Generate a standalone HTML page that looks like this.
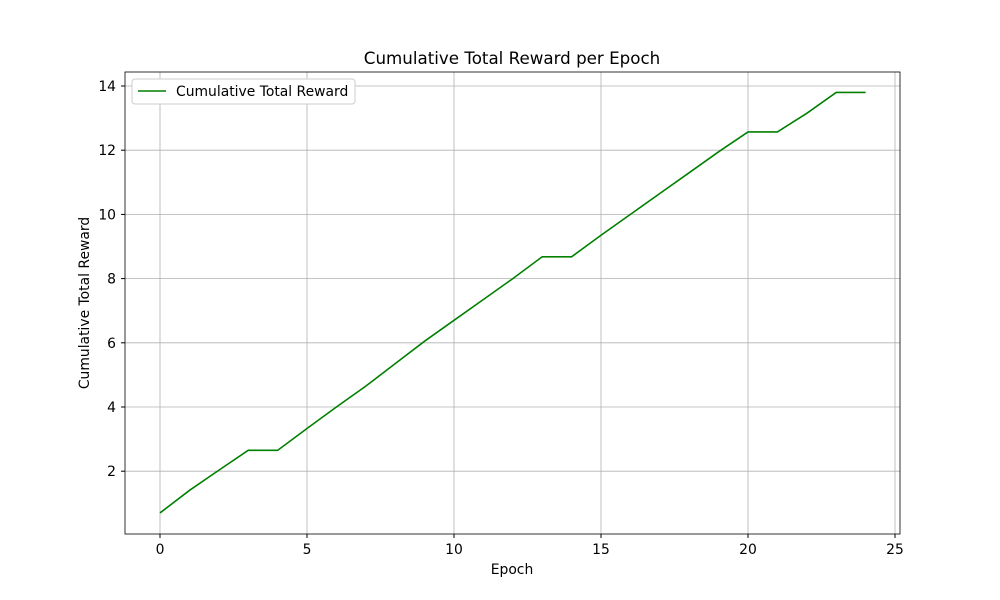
<!DOCTYPE html>
<html><head><meta charset="utf-8"><style>
body{margin:0;background:#fff;}
svg{display:block;font-family:"DejaVu Sans","Liberation Sans",sans-serif;}
</style></head><body>
<svg id="chart" width="1000" height="600">
<rect x="0" y="0" width="1000" height="600" fill="#fff"/>
<text x="512" y="64" text-anchor="middle" font-size="16.7">Cumulative Total Reward per Epoch</text>
<g id="grid"></g>
<g id="ticks"></g>
<rect x="125" y="72" width="775" height="462" fill="none" stroke="#000" stroke-width="0.8"/>
<path id="line" fill="none" stroke="#008000" stroke-width="1.6"/>
<text x="512" y="574" text-anchor="middle" font-size="13.9">Epoch</text>
<text transform="translate(89,303) rotate(-90)" text-anchor="middle" font-size="13.9">Cumulative Total Reward</text>
<g>
<rect x="132" y="79" width="223" height="25" rx="3" fill="#fff" stroke="#ccc"/>
<line x1="138" y1="91" x2="166" y2="91" stroke="#008000" stroke-width="1.6"/>
<text x="176" y="96" font-size="13.9">Cumulative Total Reward</text>
</g>
</svg>
<script>
const epochs = [0,1,2,3,4,5,6,7,8,9,10,11,12,13,14,15,16,17,18,19,20,21,22,23,24];
const rewards = [0.70,1.40,2.03,2.65,2.65,3.33,4.0,4.65,5.35,6.05,6.7,7.35,8.0,8.68,8.68,9.35,10.0,10.65,11.3,11.95,12.57,12.57,13.15,13.8,13.8];
const xTicks = [0,5,10,15,20,25];
const yTicks = [2,4,6,8,10,12,14];
const NS="http://www.w3.org/2000/svg";
function xs(v){return 160+v*29.4;}
function ys(v){return 535.4-v*32.1;}
const grid=document.getElementById('grid'), ticks=document.getElementById('ticks');
function mk(tag,attrs,parent){const e=document.createElementNS(NS,tag);for(const k in attrs)e.setAttribute(k,attrs[k]);parent.appendChild(e);return e;}
xTicks.forEach(t=>{
  const x=xs(t);
  const g=mk('line',{x1:x,y1:72,x2:x,y2:534,stroke:'#b0b0b0','stroke-width':0.8},grid);
  
  
  mk('line',{x1:x,y1:534,x2:x,y2:538,stroke:'#000'},ticks);
  const tx=mk('text',{x:x,y:554,'text-anchor':'middle','font-size':13.9},ticks);
  tx.textContent=t;
  
  
});
yTicks.forEach(t=>{
  const y=ys(t);
  const g=mk('line',{x1:125,y1:y,x2:900,y2:y,stroke:'#b0b0b0','stroke-width':0.8},grid);
  
  
  mk('line',{x1:121,y1:y,x2:125,y2:y,stroke:'#000'},ticks);
  const tx=mk('text',{x:116,y:y+5,'text-anchor':'end','font-size':13.9},ticks);
  tx.textContent=t;
  
  
});
document.getElementById('line').setAttribute('d',epochs.map((e,i)=>(i?'L':'M')+xs(e)+','+ys(rewards[i])).join(' '));
</script>
</body></html>
